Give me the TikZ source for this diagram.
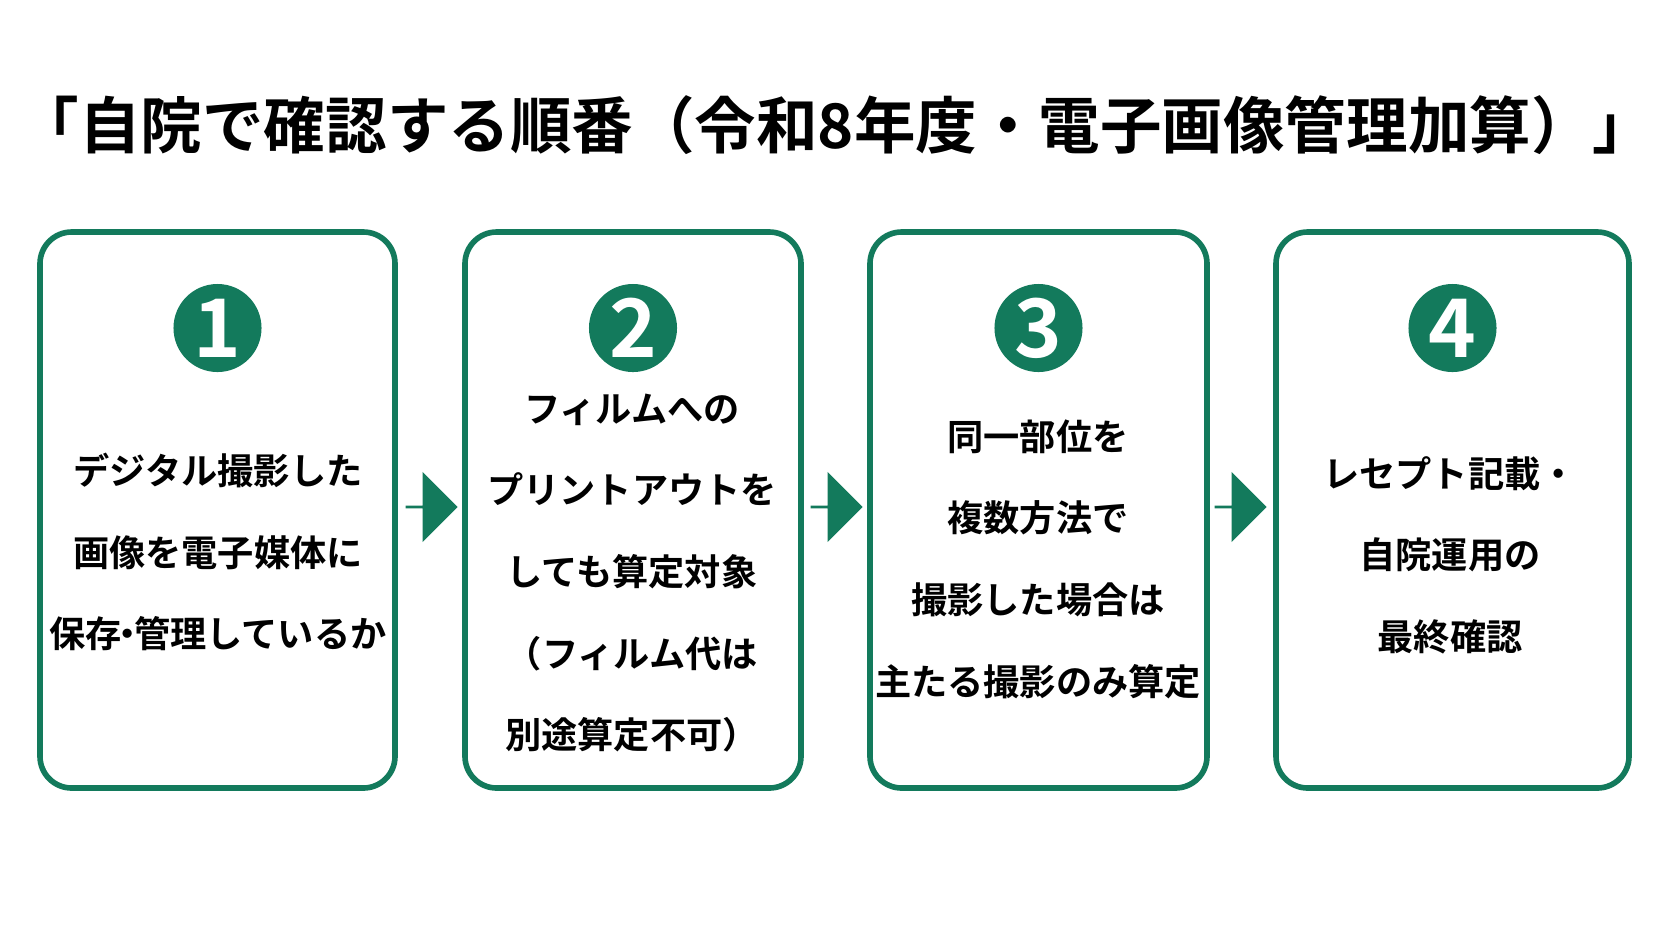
\documentclass[tikz,border=0pt]{standalone}
\usepackage{fontspec}
\setmainfont{Noto Sans CJK JP Bold}
\usetikzlibrary{shapes.arrows}
\definecolor{stepgreen}{HTML}{137A5C}
\tikzstyle{step box}=[draw=stepgreen,line width=1.6pt,rounded corners=9pt]
\tikzstyle{step num}=[circle,fill=stepgreen,minimum size=0.88cm,inner sep=0pt,text=white,font=\fontsize{23}{23}\selectfont]
\tikzstyle{step text}=[align=center,font=\fontsize{10.3}{23.2}\selectfont]
\tikzstyle{step arrow}=[single arrow,fill=stepgreen,minimum width=0.7cm,single arrow head extend=0.17cm,minimum height=0.52cm,inner sep=0pt,single arrow tip angle=90]
\begin{document}
\begin{tikzpicture}[x=0.01cm,y=-0.01cm]
  \useasboundingbox (0,0) rectangle (1672,941);
  \node[font=\fontsize{17.5}{20}\selectfont] (title) at (836,125) {「自院で確認する順番（令和8年度・電子画像管理加算）」};
  % boxes and numbers
  \foreach \xa/\xb/\name/\num in {40/395/a/1, 465/801/b/2, 870/1207/c/3, 1276/1629/d/4} {
    \draw[step box] (\xa,232) rectangle (\xb,788);
    \node[step num] (\name) at ({(\xa+\xb)/2},328) {\num};
  }
  % texts
  \node[step text] (ta) at (218,552) {デジタル撮影した\\画像を電子媒体に\\保存\hspace{-0.33em}・\hspace{-0.33em}管理しているか};
  \node[step text] (tb) at (632,573) {フィルムへの\\プリントアウトを\\しても算定対象\\（フィルム代は\\別途算定不可）};
  \node[step text] (tc) at (1038,559) {同一部位を\\複数方法で\\撮影した場合は\\主たる撮影のみ算定};
  \node[step text] (td) at (1450,555) {レセプト記載・\\自院運用の\\最終確認};
  % arrows
  \foreach \x/\name in {431/ab, 836/bc, 1240/cd}
    \node[step arrow] (\name) at (\x,507) {};
\end{tikzpicture}
\end{document}
